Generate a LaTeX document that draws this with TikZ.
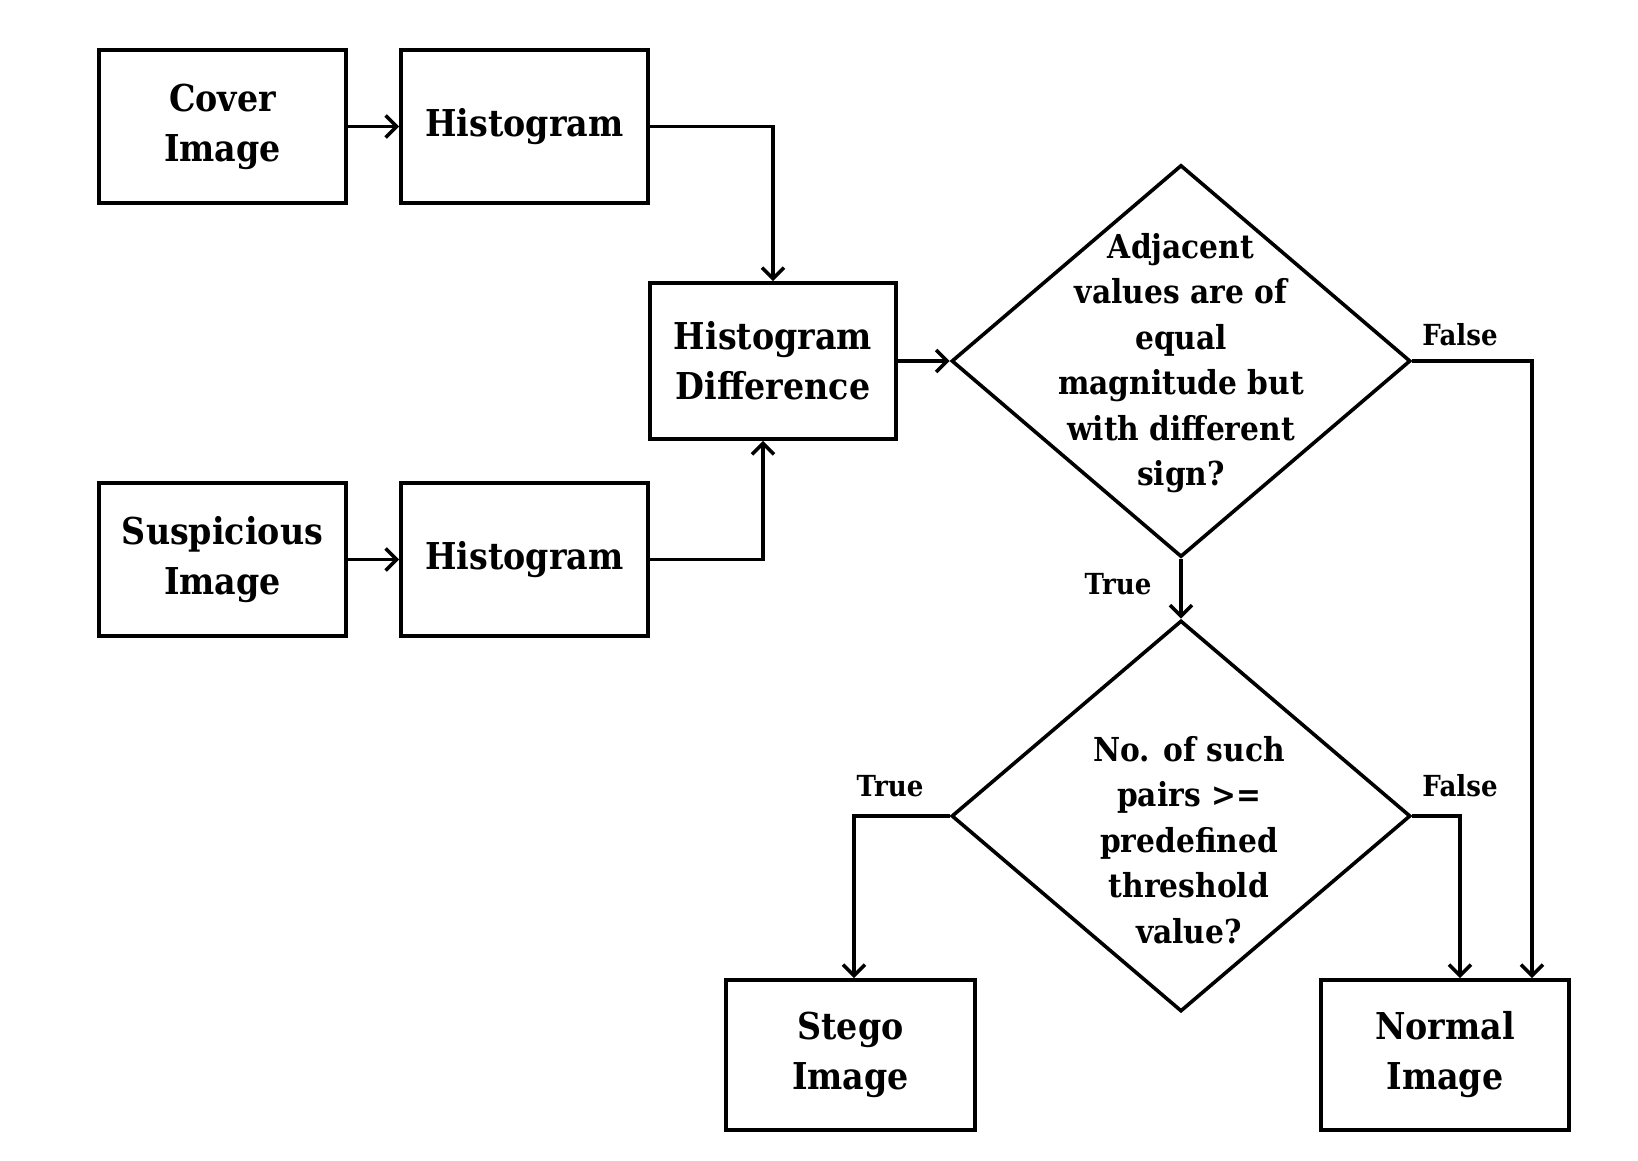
\documentclass[tikz,border=0pt]{standalone}
\usepackage{fontspec}
\setmainfont{DejaVu Serif}[FakeStretch=0.9]
\usetikzlibrary{shapes.geometric,arrows.meta}
\begin{document}
\begin{tikzpicture}[x=1pt,y=-1pt,
  box/.style={draw,line width=3.6pt,minimum width=247pt,minimum height=153pt,inner sep=0pt,align=center,
    font=\fontsize{37}{50}\selectfont\bfseries},
  decision/.style={draw,diamond,line width=3.6pt,minimum width=459pt,minimum height=392pt,inner sep=0pt},
  dtext/.style={align=center,font=\fontsize{33}{45.5}\selectfont\bfseries},
  lbl/.style={font=\fontsize{29}{35}\selectfont\bfseries},
  conn/.style={line width=3.6pt,-{Straight Barb[length=11pt,width=22pt]}}]
\useasboundingbox (0,0) rectangle (1638,1160);
\fill[white] (0,0) rectangle (1638,1160);
\node[box] (cover) at (222.5,126.5) {Cover\\Image\rule[-3pt]{0pt}{0pt}};
\node[box] (hist1) at (524.5,126.5) {\raisebox{-3pt}{Histogram}};
\node[box,minimum width=246pt,minimum height=156pt] (diff) at (773,361) {Histogram\\Difference};
\node[box] (susp) at (222.5,559.5) {Suspicious\\Image};
\node[box] (hist2) at (524.5,559.5) {\raisebox{-3pt}{Histogram}};
\node[decision] (d1) at (1181,361) {};
\node[dtext] (d1t) at (1181,363) {Adjacent\\values are of\\equal\\magnitude but\\with different\\sign?};
\node[decision,minimum height=391pt] (d2) at (1181,816) {};
\node[dtext] (d2t) at (1189,840) {No. of such\\pairs >=\\predefined\\threshold\\value?};
\node[box,minimum width=249pt,minimum height=150pt] (stego) at (850.5,1055) {Stego\\Image};
\node[box,minimum width=248pt,minimum height=150pt] (normal) at (1445,1055) {Normal\\Image};
\node[lbl] (f1) at (1460,335) {False};
\node[lbl] (t1) at (1118,584) {True};
\node[lbl] (t2) at (890,786) {True};
\node[lbl] (f2) at (1460,786) {False};
\draw[conn] (cover.east) -- (hist1.west);
\draw[conn] (susp.east) -- (hist2.west);
\draw[conn] (hist1.east) -| (diff.north);
\draw[conn] (hist2.east) -| ([xshift=-10pt]diff.south);
\draw[conn] (diff.east) -- (d1.west);
\draw[conn] (d1.south) -- (d2.north);
\draw[conn] (d1.east) -| ([xshift=87pt]normal.north);
\draw[conn] (d2.west) -| ([xshift=3.5pt]stego.north);
\draw[conn] (d2.east) -| ([xshift=15pt]normal.north);
\end{tikzpicture}
\end{document}
